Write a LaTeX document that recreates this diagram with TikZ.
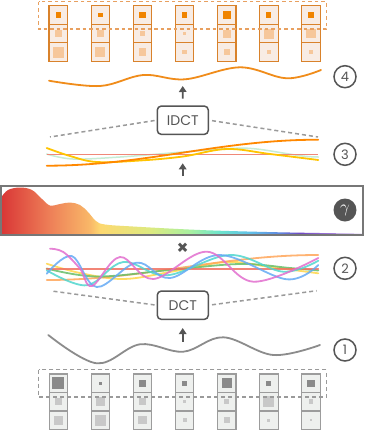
\documentclass[tikz,border=0pt]{standalone}
\usepackage{fontspec}
\setmainfont{Poppins}
\usetikzlibrary{arrows.meta,calc}
\definecolor{dk}{HTML}{555555}
\definecolor{dashg}{HTML}{9A9A9A}
\definecolor{oborder}{HTML}{D9822B}
\definecolor{ofill}{HTML}{F8ECE4}
\definecolor{otop}{HTML}{F08400}
\definecolor{olow}{HTML}{F6C79B}
\definecolor{odash}{HTML}{E8A060}
\definecolor{gborder}{HTML}{9C9C9C}
\definecolor{gfill}{HTML}{EEF0EE}
\definecolor{gtop}{HTML}{8A8A8A}
\definecolor{glow}{HTML}{C8C8C8}
\definecolor{wave4}{HTML}{F08C1A}
\definecolor{wave1}{HTML}{8C8C8C}
\definecolor{sp0}{HTML}{D93636}
\definecolor{sp1}{HTML}{EE8058}
\definecolor{sp2}{HTML}{F9B868}
\definecolor{sp3}{HTML}{FDD870}
\definecolor{sp4}{HTML}{DDEA80}
\definecolor{sp5}{HTML}{A8F0A0}
\definecolor{sp6}{HTML}{6CE4CC}
\definecolor{sp7}{HTML}{60C0E8}
\definecolor{sp8}{HTML}{6088E0}
\definecolor{sp9}{HTML}{7048C4}
\definecolor{sp10}{HTML}{A078D8}
\definecolor{sp11}{HTML}{E0D0F8}
\pgfdeclarehorizontalshading{spectrum}{100bp}{color(0bp)=(sp0); color(25bp)=(sp0); color(31.8bp)=(sp1); color(37.3bp)=(sp2); color(38.7bp)=(sp3); color(45.6bp)=(sp4); color(51.1bp)=(sp5); color(55.2bp)=(sp6); color(59.4bp)=(sp7); color(63.5bp)=(sp8); color(66.3bp)=(sp9); color(70.4bp)=(sp10); color(75bp)=(sp11); color(100bp)=(sp11)}
\tikzset{
  numc/.style={circle, draw=dk, line width=1.5bp, minimum size=22bp, inner sep=0pt, text=dk, font=\fontsize{13bp}{13bp}\selectfont},
  tbox/.style={draw=dk, line width=1.5bp, rounded corners=4bp, minimum width=51bp, minimum height=28.3bp, inner sep=0pt, text=dk, font=\fontsize{14bp}{14bp}\selectfont},
  dashline/.style={draw=dashg, line width=1.5bp, dash pattern=on 4bp off 3bp},
  uparrow/.style={draw=dk, line width=1.6bp, -{Triangle[width=7.5bp,length=6bp]}},
  ocell/.style={draw=oborder, fill=ofill, line width=1.1bp},
  gcell/.style={draw=gborder, fill=gfill, line width=1.1bp},
  curve/.style={line width=1.8bp, line cap=round},
  w2/.style={curve, opacity=0.85},
}
\begin{document}
\begin{tikzpicture}[x=1bp,y=-1bp]
\useasboundingbox (0,0) rectangle (366,431);
\fill[white] (0,0) rectangle (366,431);

% ---------- top orange cells ----------
\foreach \i/\a/\b/\c in {0/5.3/7.3/11, 1/4.3/7.3/10, 2/6.7/5/7.3, 3/5.3/3.3/4.3, 4/8/8/5.7, 5/5.3/10/4.3, 6/6.3/9.3/3.3}{
  \pgfmathsetmacro\cx{58.3+42.1*\i}
  \foreach \r in {0,1,2}{
    \pgfmathsetmacro\cy{5.7+18.55*\r+9.27}
    \draw[ocell] (\cx-9.27,\cy-9.27) rectangle ++(18.55,18.55);
  }
  \fill[otop] (\cx-\a/2,14.97-\a/2) rectangle ++(\a,\a);
  \fill[olow] (\cx-\b/2,33.52-\b/2) rectangle ++(\b,\b);
  \fill[olow] (\cx-\c/2,52.07-\c/2) rectangle ++(\c,\c);
}
\draw[draw=odash, line width=1.6bp, dash pattern=on 3.5bp off 3bp] (38.5,1.5) rectangle (326.5,29);

% ---------- bottom gray cells ----------
\foreach \i/\a/\b/\c in {0/12/6.7/9, 1/2.7/9/11, 2/7.3/6.7/8.3, 3/4.7/3/4, 4/10/4.7/5.7, 5/4.7/11/3.3, 6/7.3/4.7/1.7}{
  \pgfmathsetmacro\cx{58.3+42.1*\i}
  \foreach \r in {0,1,2}{
    \pgfmathsetmacro\cy{374+18.5*\r+9.25}
    \draw[gcell] (\cx-9.25,\cy-9.25) rectangle ++(18.5,18.5);
  }
  \fill[gtop] (\cx-\a/2,383.25-\a/2) rectangle ++(\a,\a);
  \fill[glow] (\cx-\b/2,401.75-\b/2) rectangle ++(\b,\b);
  \fill[glow] (\cx-\c/2,420.25-\c/2) rectangle ++(\c,\c);
}
\draw[dashline] (38.5,369.5) rectangle (326.5,397);

% ---------- wave 4 ----------
\draw[curve, wave4] plot[smooth, tension=0.6] coordinates {(49,80.7) (100,86) (143.3,75) (185,79.3) (240,67.3) (286.7,78.3) (321,70)};

% ---------- IDCT ----------
\node[tbox] (idct) at (182.8,120.2) {IDCT};
\coordinate (i4) at (182.7,86);
\draw[uparrow] (idct.north) ++(0,-6.7) -- (i4);
\coordinate (idl) at (50,137);
\coordinate (idr) at (318,137);
\draw[dashline, shorten <=2bp] (idct.west) -- (idl);
\draw[dashline, shorten <=3bp] (idct.east) -- (idr);

% ---------- graph 3 ----------
\draw[curve, color={rgb,255:red,200;green,236;blue,212}, line width=1.5bp] plot[smooth, tension=0.6] coordinates {(46.7,154) (73,159) (120,157) (183,152) (230,148.5) (256.7,149) (300,155.7) (318.3,157)};
\draw[line width=1.5bp, color={rgb,255:red,240;green,136;blue,120}] (46.7,154.7) -- (318.3,154.7);
\draw[curve, color={rgb,255:red,255;green,196;blue,0}] plot[smooth, tension=0.6] coordinates {(46.7,148) (70,156) (96.7,162) (140,160.5) (183,156.5) (226.7,149) (270,154) (318.3,160)};
\draw[curve, color={rgb,255:red,255;green,136;blue,0}] plot[domain=0:1, samples=40, smooth] ({46.7+271.6*\x},{152.7+13*cos(180*\x)});

% ---------- spectrum ----------
\begin{scope}
\clip (1.5,235) -- plot[smooth, tension=0.6] coordinates {(1.5,197) (8,190) (20,187.5) (32,190) (42,199) (50,205.5) (60,204) (70,202.5) (80,205) (88,212) (96,221) (105,224.5) (133,226.5) (200,230) (267,232) (320,233) (362,233.6)} -- (362,235) -- cycle;
\shade[shading=spectrum] (1,186) rectangle (363,235);
\end{scope}
\node[draw=dk!80, line width=1.4bp, minimum width=362bp, minimum height=49bp, inner sep=0pt] (spec) at (182,210.5) {};
\coordinate (i3) at (182.7,163.3);
\draw[uparrow] (spec.north -| i3) ++(0,-9.3) -- (i3);

% ---------- circles ----------
\node[numc] (n4) at (345,76.7) {4};
\node[numc] (n3) at (345,154.3) {3};
\node[circle, fill=dk, minimum size=23bp, inner sep=0pt, text=white, font=\fontsize{17bp}{17bp}\selectfont] (ng) at (345,210) {$\gamma$};
\node[numc] (n2) at (345,268.3) {2};
\node[numc] (n1) at (345,350) {1};

% ---------- times ----------
\node[text=dk, font=\fontsize{19bp}{19bp}\selectfont\bfseries, inner sep=0pt] (mul) at (182.7,248.3) {×};

% ---------- graph 2 ----------
\draw[w2, color={rgb,255:red,255;green,214;blue,74}] plot[smooth, tension=0.6] coordinates {(46.7,263.7) (80,273) (123.3,279) (170,272) (226.7,262) (270,267) (318.3,273.3)};
\draw[w2, color={rgb,255:red,255;green,166;blue,90}] plot[domain=0:1, samples=40, smooth] ({46.7+271.6*\x},{267.5+12.5*cos(180*\x)});
\draw[w2, color={rgb,255:red,104;green,190;blue,104}] plot[smooth, tension=0.6] coordinates {(46.7,268.5) (96.7,276.5) (170,270) (240,264) (290,268) (318.3,270.5)};
\draw[w2, color={rgb,255:red,240;green,112;blue,96}] (46.7,269) -- (318.3,269);
\draw[w2, color={rgb,255:red,80;green,214;blue,206}] plot[smooth, tension=0.6] coordinates {(46.7,270.3) (86.7,285.3) (123.3,262) (166.7,275.3) (230,255) (283.3,271.7) (318.3,260.7)};
\draw[w2, color={rgb,255:red,100;green,170;blue,245}] plot[smooth, tension=0.6] coordinates {(46.7,273.7) (71.7,256) (96.7,287) (136.7,262.7) (170,278) (220,255) (286.7,279.3) (318.3,265)};
\draw[w2, color={rgb,255:red,226;green,110;blue,206}] plot[smooth, tension=0.6] coordinates {(50,248.7) (63.3,252) (80,268.7) (92,286) (120,257) (153.3,279) (206.7,251.7) (253.3,281.7) (318.3,258)};

% ---------- DCT ----------
\node[tbox] (dct) at (182.8,305.2) {DCT};
\coordinate (dl) at (51.7,291);
\coordinate (dr) at (316.7,290.7);
\draw[dashline, shorten <=2bp] (dct.west) -- (dl);
\draw[dashline, shorten <=3bp] (dct.east) -- (dr);
\coordinate (w1a) at (182.7,341.7);
\draw[uparrow, shorten >=8bp] (w1a) -- (dct.south -| w1a);

% ---------- wave 1 ----------
\draw[curve, wave1] plot[smooth, tension=0.6] coordinates {(48.3,335) (96.7,363.3) (140,344.3) (183.3,351.7) (223.3,337.3) (273.3,355) (320,345)};
\end{tikzpicture}
\end{document}
